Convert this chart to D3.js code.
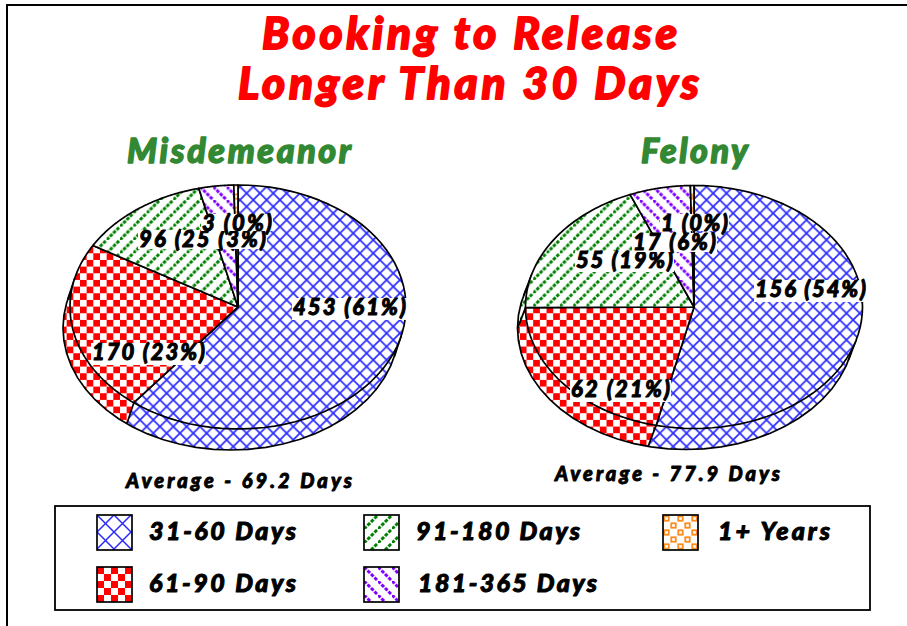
<!DOCTYPE html>
<html>
<head>
<meta charset="utf-8">
<script src="https://cdnjs.cloudflare.com/ajax/libs/d3/7.8.5/d3.min.js"></script>
<style>
html,body{margin:0;padding:0;background:#fff;}
svg{display:block;}
text{font-family:Lato,"Open Sans",sans-serif;font-weight:900;font-style:italic;paint-order:stroke;}
</style>
</head>
<body>
<svg id="c" width="907" height="626"></svg>
<script>
// ---- data ----
const categories = ["31-60 Days","61-90 Days","91-180 Days","181-365 Days","1+ Years"];
const misdemeanorValues = [453,170,96,25,3];
const felonyValues = [156,62,55,17,1];
const titleLines = ["Booking to Release","Longer Than 30 Days"];
const pieNames = ["Misdemeanor","Felony"];
const averages = ["Average - 69.2 Days","Average - 77.9 Days"];

// ---- layout ----
const W=907,H=626,TILE=13.33;
const patternIds=["pBlue","pRed","pGreen","pPurple","pOrange"];
const misdemeanorLabelPos=[[293,315,113,22],[92,360,113,22],[139,247,99,19],[182,247,84,19],[202,231,70,17]];
const felonyLabelPos=[[755,297,111,22],[571,397,99,22],[576,268,97,21],[633,250,83,19],[661,231,67,17]];
const legendPos=[[97,515,149,540,147],[97,567,149,592,147],[364,515,416,540,164],[364,567,418,592,179],[663,515,718,540,112]];
const pies=[
 {values:misdemeanorValues,cx:238,cy:307,rx:168,ry:122,dx:-7,dy:21,pos:misdemeanorLabelPos},
 {values:felonyValues,cx:694,cy:307,rx:168.5,ry:121.5,dx:-8,dy:21,pos:felonyLabelPos}
];

const svg=d3.select("#c");
const defs=svg.append("defs");

function tile(id,size){return defs.append("pattern").attr("id",id).attr("patternUnits","userSpaceOnUse").attr("width",size).attr("height",size);}
function buildPatterns(prefix,s,sBlue,blueWidth){
  const BLUE="#2a2aff",RED="#ff0000",GREEN="#008000",PURPLE="#8000ff",ORANGE="#ff8c1a";
  let p=tile(prefix+"pBlue",sBlue);
  p.append("rect").attr("width",sBlue).attr("height",sBlue).attr("fill","#fff");
  p.append("path").attr("d",`M0,0L${sBlue},${sBlue}M${sBlue},0L0,${sBlue}`).attr("stroke",BLUE).attr("stroke-width",blueWidth).attr("fill","none");
  p=tile(prefix+"pRed",s);
  p.append("rect").attr("width",s).attr("height",s).attr("fill","#fff");
  p.append("rect").attr("width",s/2).attr("height",s/2).attr("fill",RED);
  p.append("rect").attr("x",s/2).attr("y",s/2).attr("width",s/2).attr("height",s/2).attr("fill",RED);
  const diag=s*Math.SQRT2, on=diag/4*0.72, off=diag/4*0.28;
  p=tile(prefix+"pGreen",s);
  p.append("rect").attr("width",s).attr("height",s).attr("fill","#fff");
  p.append("path").attr("d",`M0,${s}L${s},0`).attr("stroke",GREEN).attr("stroke-width",3).attr("stroke-dasharray",`${on} ${off}`).attr("fill","none");
  p=tile(prefix+"pPurple",s);
  p.append("rect").attr("width",s).attr("height",s).attr("fill","#fff");
  p.append("path").attr("d",`M0,0L${s},${s}`).attr("stroke",PURPLE).attr("stroke-width",3).attr("stroke-dasharray",`${on} ${off}`).attr("fill","none");
  p=tile(prefix+"pOrange",s);
  p.append("rect").attr("width",s).attr("height",s).attr("fill","#fff");
  [[0,0],[s/2,s/2]].forEach(o=>{
    p.append("rect").attr("x",o[0]+s*.09).attr("y",o[1]+s*.09).attr("width",s*.32).attr("height",s*.32).attr("fill","#fff").attr("stroke",ORANGE).attr("stroke-width",1.8);
  });
}
buildPatterns("",TILE,TILE,1.7);
buildPatterns("lg",14,17,1.5);

const color=d3.scaleOrdinal().domain(categories).range(patternIds);

// frame lines
svg.append("path").attr("d",`M7,${H}L7,5L${W},5`).attr("fill","none").attr("stroke","#000").attr("stroke-width",2);

function fitText(sel,x,y,w,size,fill,bold){
  return sel.append("text").attr("x",x).attr("y",y).attr("font-size",size).attr("fill",fill)
    .attr("stroke",fill).attr("stroke-width",bold).attr("stroke-linejoin","round")
    .attr("textLength",w).attr("lengthAdjust","spacing");
}
fitText(svg,262,49,415,44,"#ff0000",1.8).text(titleLines[0]);
fitText(svg,238,99,461,44,"#ff0000",1.8).text(titleLines[1]);
fitText(svg,127,163,224,34,"#338833",1.4).text(pieNames[0]);
fitText(svg,641,163,107,34,"#338833",1.4).text(pieNames[1]);
fitText(svg,126,488,226,20,"#000",0.9).text(averages[0]);
fitText(svg,555,481,225,20,"#000",0.9).text(averages[1]);

const lineGen=d3.line();
const pieGen=d3.pie().sort(null).startAngle(0).endAngle(2*Math.PI);

pies.forEach(P=>{
  const g=svg.append("g");
  const arcs=pieGen(P.values);
  const total=d3.sum(P.values);
  const top=a=>[P.cx+P.rx*Math.sin(a),P.cy-P.ry*Math.cos(a)];
  const low=a=>{const t=top(a);return [t[0]+P.dx,t[1]+P.dy];};
  const sample=(a0,a1,f)=>d3.range(0,61).map(i=>f(a0+(a1-a0)*i/60));
  // side walls, swept between the two ellipses
  arcs.forEach((d,i)=>{
    const pts=sample(d.startAngle,d.endAngle,top).concat(sample(d.endAngle,d.startAngle,low));
    g.append("path").attr("d",lineGen(pts)+"Z").attr("fill",`url(#${color(categories[i])})`);
  });
  // lower rim
  g.append("path").attr("d",lineGen(sample(0,2*Math.PI,low))+"Z").attr("fill","none").attr("stroke","#000").attr("stroke-width",1.7);
  // silhouette tangents and visible slice edges
  const t0=Math.atan2(P.rx*P.dy,P.ry*P.dx), t1=t0+Math.PI;
  const edges=[t0,t1].concat(arcs.map(d=>d.endAngle).filter(a=>a>t0&&a<t1));
  edges.forEach(a=>{
    g.append("path").attr("d",lineGen([top(a),low(a)])).attr("stroke","#000").attr("stroke-width",1.7).attr("fill","none");
  });
  // top face
  arcs.forEach((d,i)=>{
    const pts=[[P.cx,P.cy]].concat(sample(d.startAngle,d.endAngle,top));
    g.append("path").attr("d",lineGen(pts)+"Z").attr("fill",`url(#${color(categories[i])})`)
      .attr("stroke","#000").attr("stroke-width",1.7).attr("stroke-linejoin","round");
  });
  // labels with white boxes, later ones on top
  arcs.forEach((d,i)=>{
    const q=P.pos[i];
    g.append("rect").attr("x",q[0]-1).attr("y",q[1]-17).attr("width",q[2]+2).attr("height",q[3]).attr("fill","#fff");
    fitText(g,q[0],q[1],q[2],22,"#000",1).text(`${d.data} (${d3.format(".0f")(d.data/total*100)}%)`);
  });
});

// legend
svg.append("rect").attr("x",55).attr("y",506).attr("width",815).attr("height",104).attr("fill","#fff").attr("stroke","#000").attr("stroke-width",1.8);
categories.forEach((c,i)=>{
  const q=legendPos[i];
  svg.append("g").attr("transform",`translate(${q[0]},${q[1]})`)
    .append("rect").attr("width",35).attr("height",35)
    .attr("fill",`url(#lg${color(c)})`).attr("stroke","#000").attr("stroke-width",1.7);
  fitText(svg,q[2],q[3],q[4],25,"#000",1).text(c);
});
</script>
</body>
</html>
